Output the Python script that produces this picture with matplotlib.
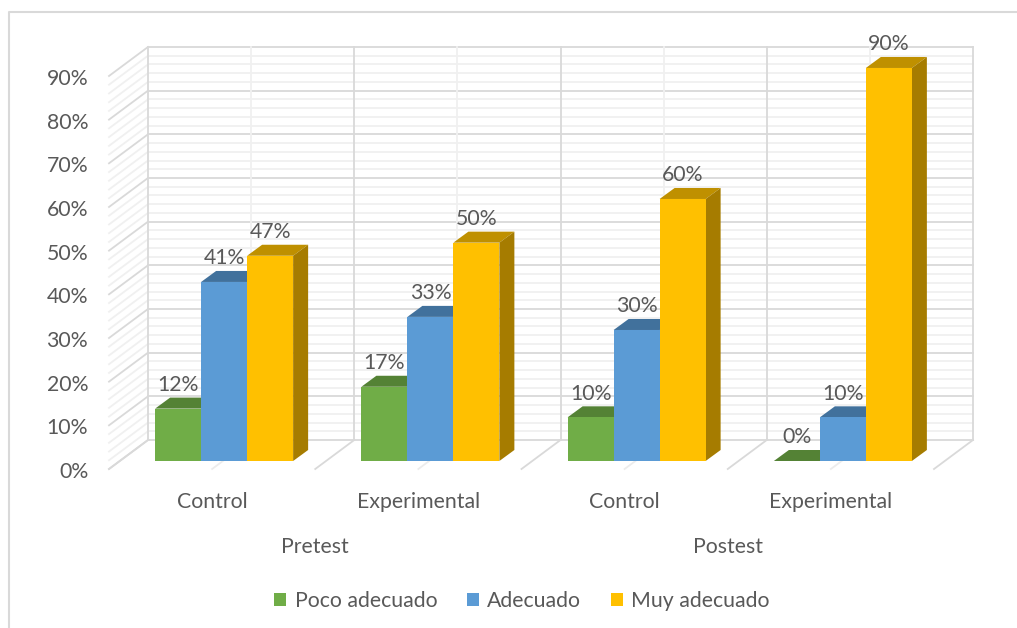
import matplotlib
matplotlib.use('Agg')
import matplotlib.pyplot as plt
from matplotlib.lines import Line2D
from matplotlib.patches import Polygon
from matplotlib.transforms import Affine2D

plt.rcParams['font.family'] = ['Lato', 'DejaVu Sans']

groups = ['Control', 'Experimental', 'Control', 'Experimental']
phases = ['Pretest', 'Postest']
series = ['Poco adecuado', 'Adecuado', 'Muy adecuado']
poco = [12, 17, 10, 0]
adecuado = [41, 33, 30, 10]
muy = [47, 50, 60, 90]
y_major = [0, 10, 20, 30, 40, 50, 60, 70, 80, 90]
y_minor = [2, 4, 6, 8, 12, 14, 16, 18, 22, 24, 26, 28, 32, 34, 36, 38, 42, 44, 46, 48,
           52, 54, 56, 58, 62, 64, 66, 68, 72, 74, 76, 78, 82, 84, 86, 88]

front_col = ['#70AD47', '#5B9BD5', '#FFC000']
top_col = ['#548235', '#41719C', '#BF9000']
side_col = ['#44692B', '#35597D', '#A67C00']
text_col = '#595959'

W, H = 1017, 628
# pixel scale of the bars' front plane
GROUP_PX = 206.25
PCT_PX = 4.367
LEFT_PX = 121
ZERO_PX = 461
FONT = 15.3

fig = plt.figure(figsize=(W / 100, H / 100), dpi=100)
ax = fig.add_axes([LEFT_PX / W, 1 - ZERO_PX / H, 4 * GROUP_PX / W, 90 * PCT_PX / H])
ax.set_xlim(-0.5, 3.5)
ax.set_ylim(0, 90)
ax.patch.set_alpha(0)
for s in ax.spines.values():
    s.set_visible(False)


def dx(px):
    return px / GROUP_PX


def dy(px):
    return px / PCT_PX


# outer chart border, only left and top are inside the picture
fig.add_artist(Line2D([8.5 / W, 8.5 / W, 1], [0, 1 - 11.5 / H, 1 - 11.5 / H],
                      transform=fig.transFigure, color='#d9d9d9', lw=1.5))

# walls: back plane is +27,+21 px from the bars, front edge is -12,-8 px
bx0, bx1 = dx(27) - 0.5, dx(27) + 3.5
fx = dx(-12)
fy = dy(-8)
by = dy(21)
for vals, col in ((y_minor, '#f0f0f0'), (y_major, '#d9d9d9')):
    for v in vals:
        ax.plot([bx0, bx1], [v + by, v + by], color=col, lw=1.3, clip_on=False, zorder=1)
        ax.plot([bx0 - dx(27) + fx, bx0], [v + fy, v + by], color=col, lw=1.3, clip_on=False, zorder=1)

for i in range(4):
    ax.plot([i + dx(27)] * 2, [by, 90 + by], color='#f0f0f0', lw=1.3, clip_on=False, zorder=1)
    ax.plot([i + fx, i + dx(27)], [fy, by], color='#ececec', lw=1.3, clip_on=False, zorder=1)
for i in range(5):
    x = i - 0.5
    ax.plot([x + dx(27)] * 2, [by, 90 + by], color='#d9d9d9', lw=1.3, clip_on=False, zorder=1.5)
    ax.plot([x + fx, x + dx(27)], [fy, by], color='#d9d9d9', lw=1.3, clip_on=False, zorder=1.5)

# bars, left to right so each one hides the side of the previous
width = 46 / GROUP_PX
ddx, ddy = dx(15), dy(11)
for j, (name, vals) in enumerate(zip(series, [poco, adecuado, muy])):
    pos = [i + (j - 1) * width for i in range(4)]
    z = 3 + j
    ax.bar(pos, vals, width=width, color=front_col[j], label=name, zorder=z + 0.5)
    for x, v in zip(pos, vals):
        l, r = x - width / 2, x + width / 2
        ax.add_patch(Polygon([(l, v), (r, v), (r + ddx, v + ddy), (l + ddx, v + ddy)],
                             fc=top_col[j], ec='none', clip_on=False, zorder=z))
        ax.add_patch(Polygon([(r, 0), (r + ddx, ddy), (r + ddx, v + ddy), (r, v)],
                             fc=side_col[j], ec='none', clip_on=False, zorder=z))
        ax.annotate(f'{v}%', (x, v), xytext=(0, 17), textcoords='offset points', ha='center',
                    va='center', color=text_col, fontsize=FONT, zorder=10, annotation_clip=False)

# ticks sit on the front edge of the floor, not on the bars' plane
ax.set_yticks(y_major)
ax.set_yticklabels([f'{v}%' for v in y_major], color=text_col, fontsize=FONT)
ax.set_xticks(range(4))
ax.set_xticklabels(groups, color=text_col, fontsize=FONT)
ax.tick_params(axis='y', length=0, pad=15)
ax.tick_params(axis='x', length=0, pad=16)
shift = Affine2D().translate(-12, -9)
for lab in ax.get_yticklabels() + ax.get_xticklabels():
    lab.set_transform(lab.get_transform() + shift)

for x, name in zip([0.5, 2.5], phases):
    ax.annotate(name, (x + fx, 0), xytext=(0, -62), textcoords='offset points', ha='center',
                va='center', color=text_col, fontsize=FONT, annotation_clip=False)

leg = ax.legend(loc='center', bbox_to_anchor=(522 / W, 1 - 601 / H), bbox_transform=fig.transFigure,
                ncols=3, frameon=False, fontsize=FONT, labelcolor=text_col, handlelength=0.55,
                handleheight=0.55, handletextpad=0.4, columnspacing=1.4)

fig.savefig('out.png', dpi=100)
